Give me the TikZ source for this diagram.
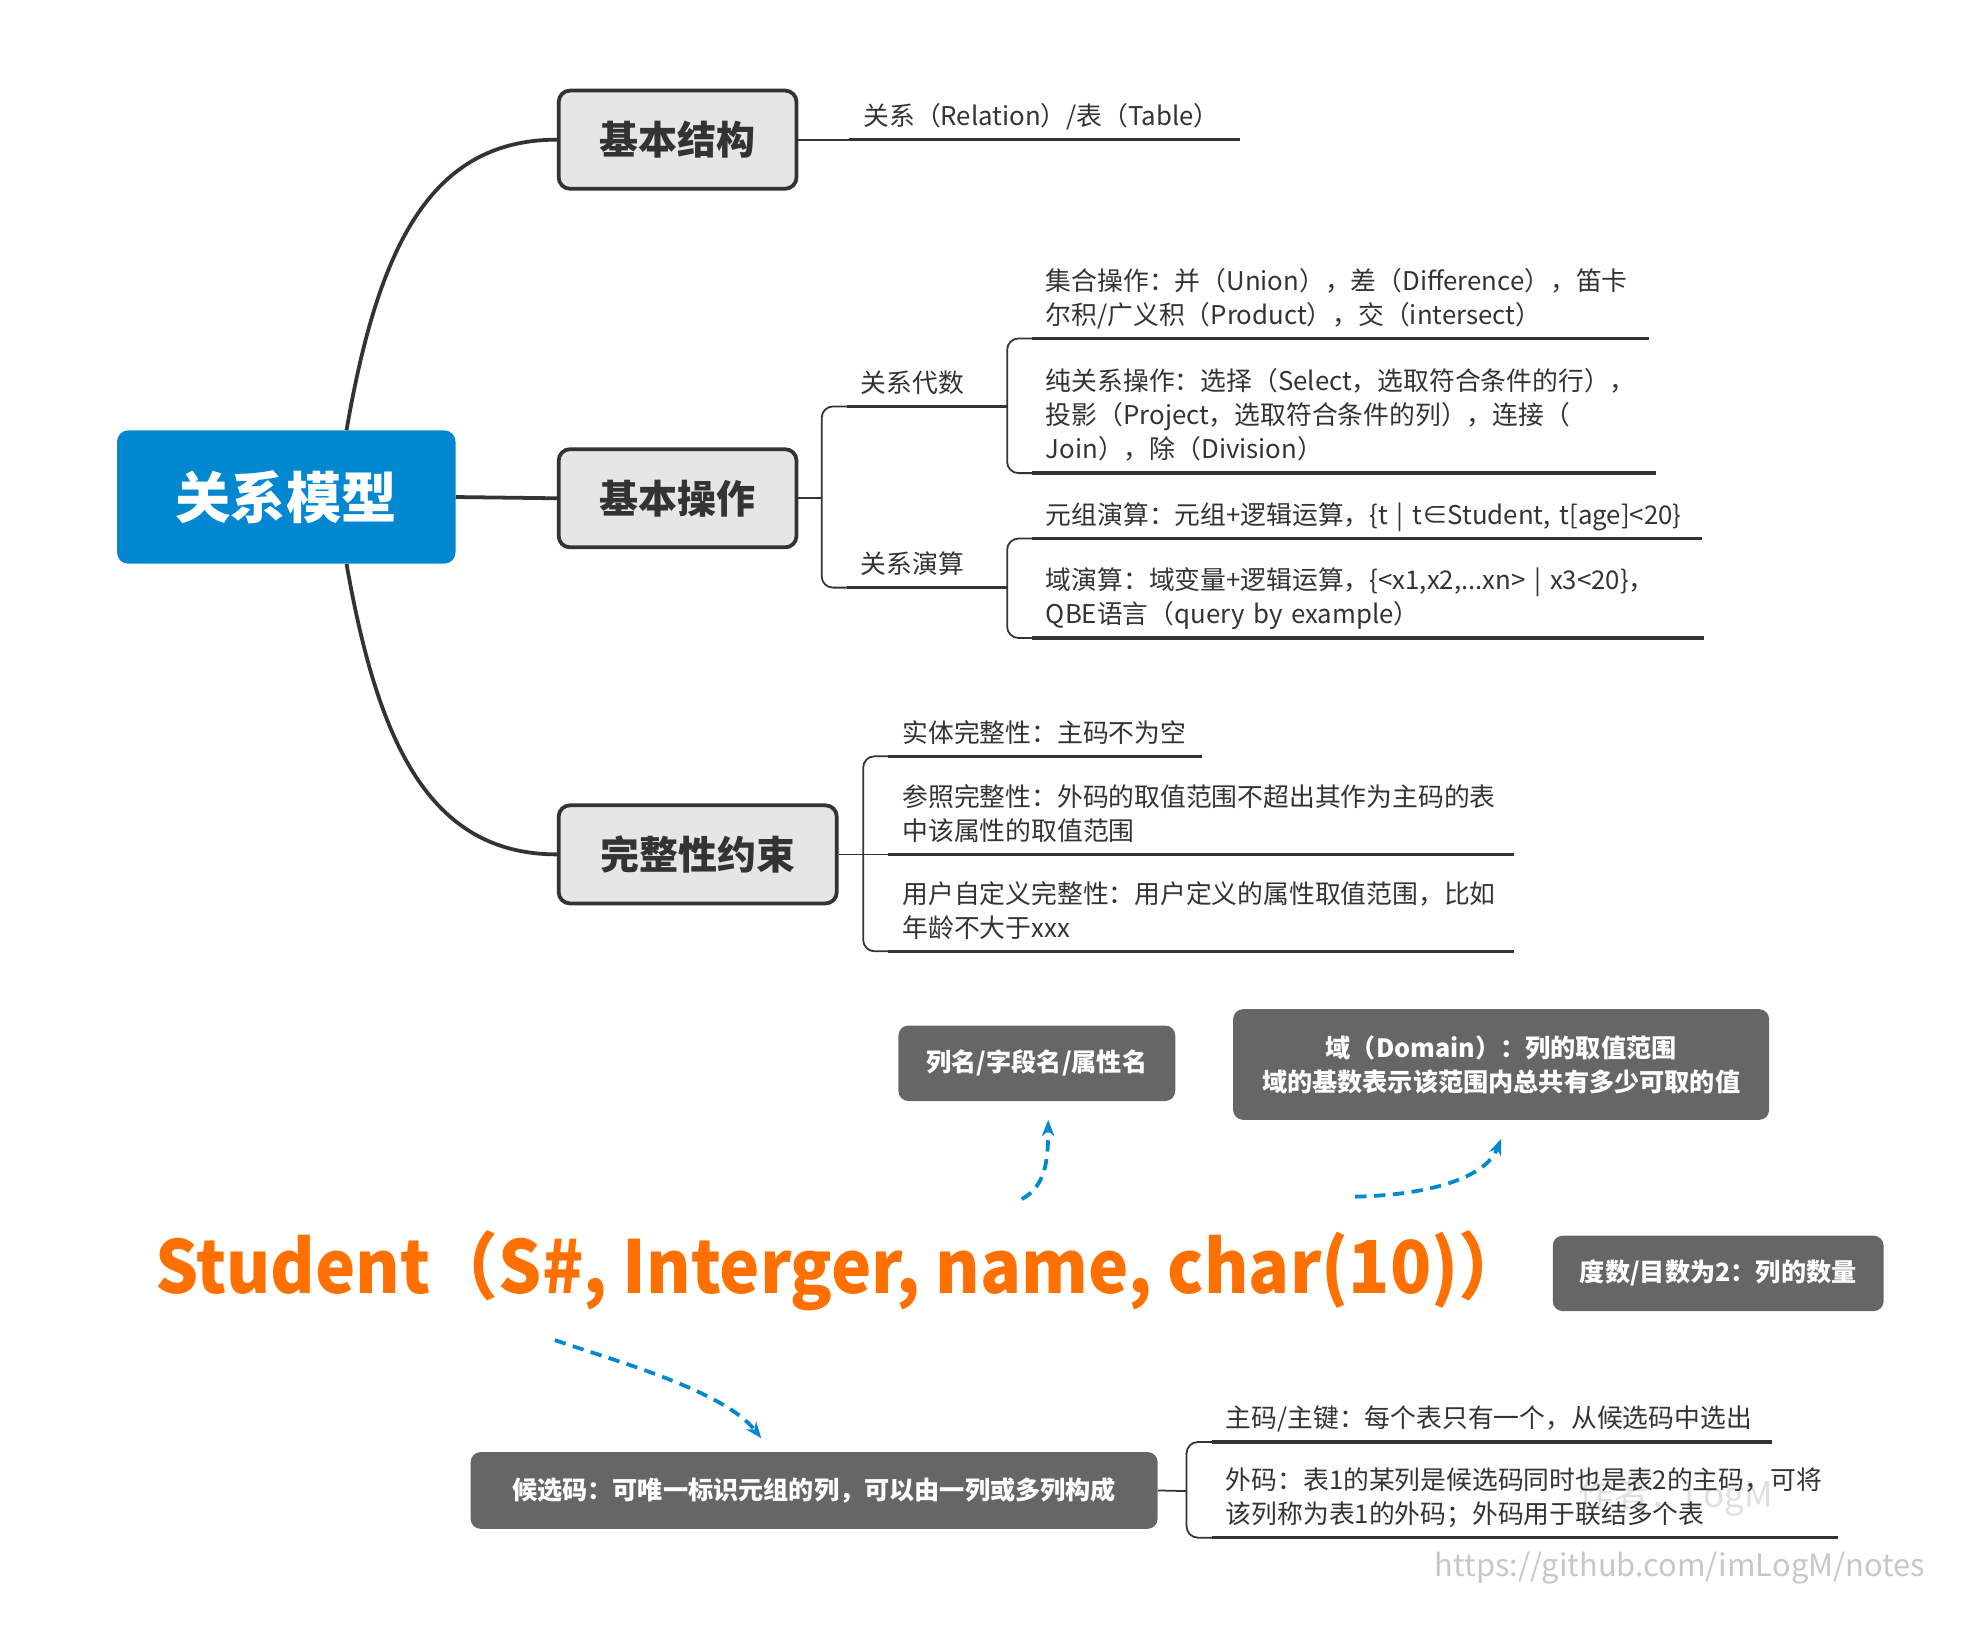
\documentclass[tikz,border=0pt]{standalone}
\usepackage{fontspec}
\setmainfont{Noto Sans CJK SC}
\newfontfamily\schemafont[FakeStretch=0.93]{Noto Sans CJK SC}
\usepackage{tikz}
\usetikzlibrary{positioning, arrows.meta, calc}
\definecolor{rootblue}{HTML}{0288D1}
\definecolor{inkgray}{HTML}{333333}
\definecolor{topicfill}{HTML}{E6E6E6}
\definecolor{notegray}{HTML}{666666}
\definecolor{keyorange}{HTML}{FF7000}

\begin{document}
\begin{tikzpicture}[
        x=1pt, y=-1pt,
        root/.style  = {fill=rootblue, rounded corners=9pt, minimum width=269pt, minimum height=106pt, text=white, font=\fontsize{44}{50}\selectfont\bfseries},
        topic/.style = {draw=inkgray, line width=3pt, fill=topicfill, rounded corners=9pt, minimum height=78pt, text=inkgray, font=\fontsize{31}{36}\selectfont\bfseries},
        note/.style  = {fill=notegray, rounded corners=8pt, text=white, align=center, font=\fontsize{20}{27}\selectfont\bfseries},
        leaf/.style  = {anchor=south west, inner xsep=11pt, inner ysep=3pt, align=left, text=inkgray, font=\fontsize{20.5}{27}\selectfont, execute at end node=\strut},
        main/.style  = {draw=inkgray, line width=3pt},
        brace/.style = {draw=inkgray, line width=1.4pt, rounded corners=9pt},
        uline/.style = {draw=inkgray, line width=2.6pt},
        hint/.style  = {draw=rootblue, line width=3pt, dash pattern=on 9pt off 6pt, -{Stealth[length=13pt, width=10pt]}},
    ]
        \useasboundingbox (0,0) rectangle (1568,1295);

        % watermark
        \node[text=black!12, font=\fontsize{28}{30}\selectfont, inner sep=0] (wmname) at (1332,1190) {作者：LogM};
        \node[text=black!22, font=\fontsize{24.5}{30}\selectfont, anchor=west, inner sep=0] (wmurl) at (1140,1246) {https://github.com/imLogM/notes};

        % mind map
        \node[root] (root) at (227.5,395) {关系模型};
        \node[topic, minimum width=189pt] (struct) at (538.5,111) {基本结构};
        \node[topic, minimum width=189pt] (ops) at (538.5,396) {基本操作};
        \node[topic, minimum width=221pt] (integ) at (554.5,679) {完整性约束};

        \draw[main] (root.48) .. controls (300,200) and (340,111) .. (struct.west);
        \draw[main] (root.east) -- (ops.west);
        \draw[main] (root.-48) .. controls (300,588) and (340,679) .. (integ.west);

        \node[leaf, text width=288pt] (rel) at (675,111) {关系（Relation）/表（Table）};

        \node[leaf, text width=105pt] (alg) at (673,323) {关系代数};
        \node[leaf, text width=105pt] (calc) at (673,467) {关系演算};
        \node[leaf, text width=468pt] (setop) at (820,269) {集合操作：并（Union），差（Difference），笛卡\\尔积/广义积（Product），交（intersect）};
        \node[leaf, text width=474pt] (pureop) at (820,376) {纯关系操作：选择（Select，选取符合条件的行），\\投影（Project，选取符合条件的列），连接（\\Join），除（Division）};
        \node[leaf, text width=510pt] (tuple) at (820,428) {元组演算：元组+逻辑运算，\{t | t∈Student, t[age]<20\}};
        \node[leaf, text width=512pt] (domcalc) at (820,507) {域演算：域变量+逻辑运算，\{<x1,x2,...xn> | x3<20\}，\\QBE语言（query by example）};

        \node[leaf, text width=227pt] (entity) at (706,601) {实体完整性：主码不为空};
        \node[leaf, text width=475pt] (refint) at (706,679) {参照完整性：外码的取值范围不超出其作为主码的表\\中该属性的取值范围};
        \node[leaf, text width=475pt] (userint) at (706,756) {用户自定义完整性：用户定义的属性取值范围，比如\\年龄不大于xxx};

        \coordinate (opsplit) at (653,396);
        \coordinate (intsplit) at (686,679);
        \draw[brace] (struct.east) -- (rel.south west);
        \draw[brace] (ops.east) -- (opsplit);
        \draw[brace] (alg.south west) -| (opsplit) |- (calc.south west);
        \draw[brace] (setop.south west) -| (alg.south east) |- (pureop.south west);
        \draw[brace] (tuple.south west) -| (calc.south east) |- (domcalc.south west);
        \draw[brace] (entity.south west) -| (intsplit) |- (userint.south west);
        \draw[brace] (integ.east) -- (refint.south west);

        % relation schema
        \node[anchor=base west, inner sep=0, text=keyorange, font=\schemafont\fontsize{58}{64}\selectfont\bfseries] (schema) at (123,1028) {Student（S\#, Interger, name, char(10)）};

        \node[note, minimum width=220pt, minimum height=60pt] (colname) at (824,845) {列名/字段名/属性名};
        \node[note, minimum width=426pt, minimum height=88pt] (domain) at (1193,846) {域（Domain）：列的取值范围\\域的基数表示该范围内总共有多少可取的值};
        \node[note, minimum width=263pt, minimum height=60pt] (degree) at (1365.5,1012) {度数/目数为2：列的数量};
        \node[note, minimum width=546pt, minimum height=61pt] (cand) at (647,1184.5) {候选码：可唯一标识元组的列，可以由一列或多列构成};

        \node[leaf, text width=423pt] (pk) at (963,1146) {主码/主键：每个表只有一个，从候选码中选出};
        \node[leaf, text width=475pt] (fk) at (963,1222) {外码：表1的某列是候选码同时也是表2的主码，可将\\该列称为表1的外码；外码用于联结多个表};

        \coordinate (keysplit) at (943,1185);
        \draw[brace] (cand.east) -- (keysplit);
        \draw[brace] (pk.south west) -| (keysplit) |- (fk.south west);

        \foreach \leafname in {rel, alg, calc, setop, pureop, tuple, domcalc, entity, refint, userint, pk, fk}
            \draw[uline] (\leafname.south west) -- (\leafname.south east);

        % dashed hints
        \coordinate (nameref) at (812,953);
        \coordinate (nametip) at (833,890);
        \coordinate (domref) at (1077,951);
        \coordinate (domtip) at (1193,905);
        \coordinate (keyref) at (441,1065);
        \coordinate (keytip) at (605,1143);
        \draw[hint] (nameref) .. controls (830,943) and (833,925) .. (nametip);
        \draw[hint] (domref) .. controls (1130,950) and (1180,938) .. (domtip);
        \draw[hint] (keyref) .. controls (490,1082) and (575,1105) .. (keytip);
    \end{tikzpicture}
\end{document}
